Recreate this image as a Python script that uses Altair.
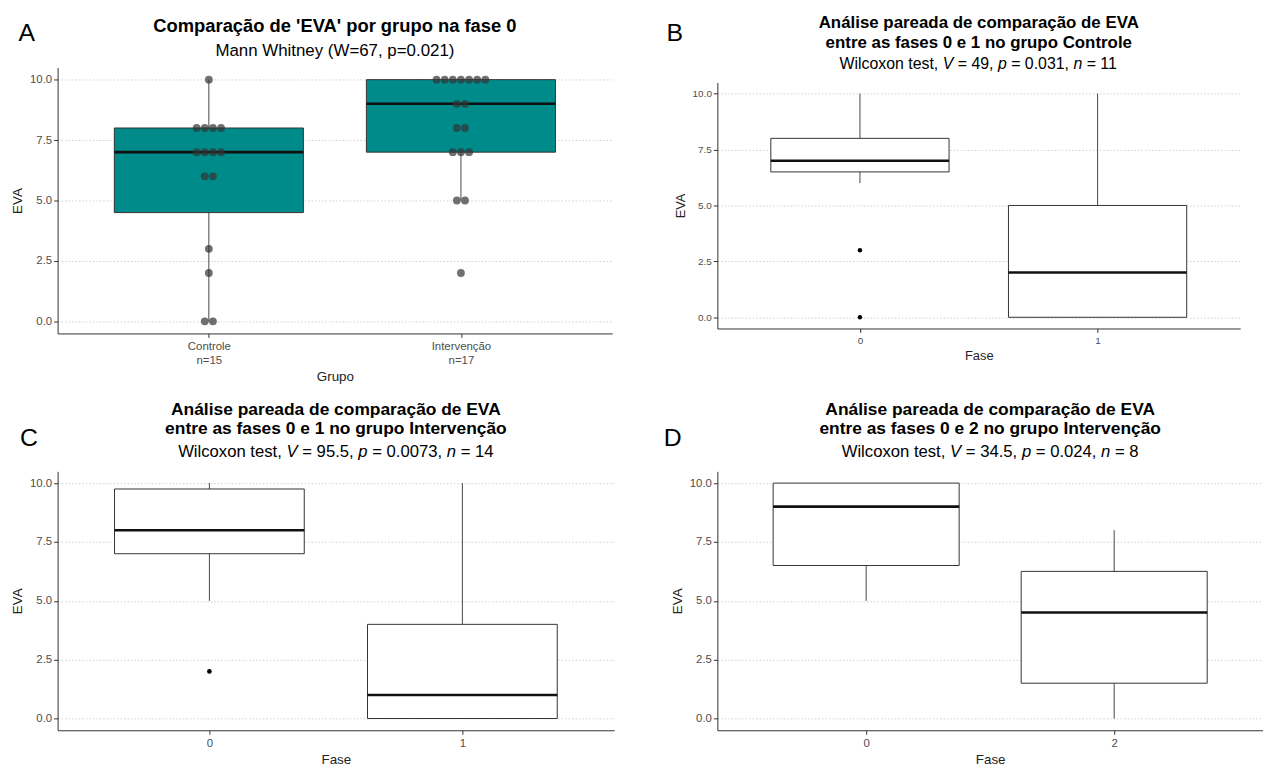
import altair as alt
import pandas as pd
import numpy as np

FONT = "Liberation Sans"

# ---------------- Panel A : raw EVA values per group (fase 0) ----------------
grupo_names = ["Controle", "Intervenção"]
grupo_n_labels = ["n=15", "n=17"]
eva_controle = [10, 8, 8, 8, 8, 7, 7, 7, 7, 6, 6, 3, 2, 0, 0]
eva_intervencao = [10, 10, 10, 10, 10, 10, 10, 9, 9, 8, 8, 7, 7, 7, 5, 5, 2]

# ---------------- Panels B, C, D : box summaries -------
b_fases = ["0", "1"]
b_lower = [6, 0]
b_q1 = [6.5, 0]
b_median = [7, 2]
b_q3 = [8, 5]
b_upper = [10, 10]
b_out_idx = [1, 1]
b_out_eva = [3, 0]

c_fases = ["0", "1"]
c_lower = [5, 0]
c_q1 = [7, 0]
c_median = [8, 1]
c_q3 = [9.75, 4]
c_upper = [10, 10]
c_out_idx = [1]
c_out_eva = [2]

d_fases = ["0", "2"]
d_lower = [5, 0]
d_q1 = [6.5, 1.5]
d_median = [9, 4.5]
d_q3 = [10, 6.25]
d_upper = [10, 8]
d_out_idx = []
d_out_eva = []

# ---------------- Titles ----------------
title_a = "Comparação de 'EVA' por grupo na fase 0"
subtitle_a = "Mann Whitney (W=67, p=0.021)"
title_line1 = "Análise pareada de comparação de EVA"
title_b2 = "entre as fases 0 e 1 no grupo Controle"
title_c2 = "entre as fases 0 e 1 no grupo Intervenção"
title_d2 = "entre as fases 0 e 2 no grupo Intervenção"
wilcox_b = ["49", "0.031", "11"]
wilcox_c = ["95.5", "0.0073", "14"]
wilcox_d = ["34.5", "0.024", "8"]

BOX_HALF = 0.375  # ggplot default box width 0.75

# Arial / Liberation Sans advance widths (per 1000 em) for laying out mixed
# regular/italic subtitle pieces side by side.
ADV = {" ": 278, ",": 278, ".": 278, "=": 584, "W": 944, "i": 222, "l": 222,
       "c": 500, "o": 556, "x": 500, "n": 556, "t": 278, "e": 556, "s": 500,
       "V": 667, "p": 556}


def text_width(s, size):
    return sum(ADV.get(ch, 556) for ch in s) * size / 1000.0


def wilcox_segments(vals):
    v, p, n = vals
    return [("Wilcoxon test, ", "normal"), ("V", "italic"), (f" = {v}, ", "normal"),
            ("p", "italic"), (f" = {p}, ", "normal"), ("n", "italic"),
            (f" = {n}", "normal")]


def stats_frame(lower, q1, median, q3, upper):
    pos = [1, 2]
    return pd.DataFrame({
        "pos": pos,
        "xl": [p - BOX_HALF for p in pos],
        "xr": [p + BOX_HALF for p in pos],
        "lower": lower, "q1": q1, "median": median, "q3": q3, "upper": upper,
    })


def tukey(vals):
    v = np.array(sorted(vals), dtype=float)
    q1, med, q3 = np.percentile(v, [25, 50, 75])
    iqr = q3 - q1
    lo = v[v >= q1 - 1.5 * iqr].min()
    hi = v[v <= q3 + 1.5 * iqr].max()
    return lo, q1, med, q3, hi


def label_expr(labels):
    def q(s):
        if isinstance(s, list):
            return "[" + ", ".join("'" + t + "'" for t in s) + "]"
        return "'" + s + "'"
    return f"datum.value == 1 ? {q(labels[0])} : {q(labels[1])}"


def text_layer(txt, x, y, size, weight="normal", style="normal", align="center"):
    return alt.Chart(pd.DataFrame({"t": [txt]})).mark_text(
        font=FONT, fontSize=size, fontWeight=weight, fontStyle=style, color="black",
        align=align, baseline="middle",
    ).encode(x=alt.value(x), y=alt.value(y), text="t:N")


def rich_layers(segments, cx, y, size):
    total = sum(text_width(s, size) for s, _ in segments)
    cursor = cx - total / 2
    out = []
    for s, style in segments:
        lead = len(s) - len(s.lstrip(" "))
        out.append(text_layer(s.strip(" "), cursor + text_width(" " * lead, size),
                              y, size, "normal", style, "left"))
        cursor += text_width(s, size)
    return out


def panel(stats, points, labels, width, height, titles, x_title, letter,
          letter_dx, letter_dy, fill, tick_font, title_font_size,
          pt_size, pt_color, pt_opacity, x_label_line_height=13, top_pad=0,
          rich=None):
    total_h = height + top_pad
    xs = alt.Scale(domain=[0.4, 2.6], nice=False, zero=False)
    ys = alt.Scale(domain=[-0.5, 10.5], nice=False, zero=False,
                   range=[total_h, top_pad])
    x_axis = alt.Axis(values=[1, 2], labelExpr=label_expr(labels), title=x_title,
                      grid=False, labelFontSize=tick_font, titleFontSize=title_font_size,
                      labelLineHeight=x_label_line_height, labelPadding=3, titlePadding=4)
    y_axis = alt.Axis(values=[0, 2.5, 5, 7.5, 10], format=".1f", title="EVA",
                      grid=True, gridDash=[1.5, 2], gridColor="#cfcfcf", gridWidth=1,
                      labelFontSize=tick_font, titleFontSize=title_font_size,
                      labelPadding=2, titlePadding=5)

    base = alt.Chart(stats)
    whisker = base.mark_rule(color="#333333", strokeWidth=0.9).encode(
        x=alt.X("pos:Q", scale=xs, axis=x_axis),
        y=alt.Y("lower:Q", scale=ys, axis=y_axis),
        y2="upper:Q",
    )
    box = base.mark_bar(fill=fill, stroke="#333333", strokeWidth=1).encode(
        x=alt.X("xl:Q", scale=xs, axis=x_axis), x2="xr:Q",
        y=alt.Y("q1:Q", scale=ys, axis=y_axis), y2="q3:Q",
    )
    med = base.mark_rule(color="#111111", strokeWidth=2.6).encode(
        x=alt.X("xl:Q", scale=xs, axis=x_axis), x2="xr:Q",
        y=alt.Y("median:Q", scale=ys, axis=y_axis),
    )
    layers = [whisker, box, med]
    if len(points):
        pts = alt.Chart(points).mark_circle(size=pt_size, color=pt_color,
                                            opacity=pt_opacity).encode(
            x=alt.X("px:Q", scale=xs, axis=x_axis),
            y=alt.Y("eva:Q", scale=ys, axis=y_axis),
        )
        layers.append(pts)
    layers.append(text_layer(letter, letter_dx, letter_dy, 25))
    for (txt, dy, size, weight) in titles:
        layers.append(text_layer(txt, width / 2, dy, size, weight))
    if rich is not None:
        segs, dy, size = rich
        layers.extend(rich_layers(segs, width / 2, dy, size))
    return alt.layer(*layers).properties(width=width, height=total_h)


# ---- Panel A ----
stA = [tukey(eva_controle), tukey(eva_intervencao)]
statsA = stats_frame(*[list(z) for z in zip(*stA)])
rows = []
DOT_STEP_PX = 8.2
A_W = 559
stepA = A_W / 2.2
for gi, vals in enumerate([eva_controle, eva_intervencao]):
    counts = pd.Series(vals).value_counts()
    seen = {}
    for v in vals:
        k = counts[v]
        r = seen.get(v, 0)
        seen[v] = r + 1
        off = (r - (k - 1) / 2) * DOT_STEP_PX / stepA
        rows.append({"px": gi + 1 + off, "eva": v})
ptsA = pd.DataFrame(rows)

chartA = panel(statsA, ptsA,
               [[grupo_names[0], grupo_n_labels[0]], [grupo_names[1], grupo_n_labels[1]]],
               A_W, 268,
               [(title_a, -42, 18.5, "bold"), (subtitle_a, -17, 17, "normal")],
               "Grupo", "A", -31, -35, "#008B8B", 11.5, 13.5,
               62, "#333333", 0.7, 14)

statsB = stats_frame(b_lower, b_q1, b_median, b_q3, b_upper)
ptsB = pd.DataFrame({"px": b_out_idx, "eva": b_out_eva})
chartB = panel(statsB, ptsB, b_fases, 527, 248,
               [(title_line1, -45, 17, "bold"), (title_b2, -25, 17, "bold")],
               "Fase", "B", -43, -35, "white", 10, 13, 20, "black", 1, top_pad=15,
               rich=(wilcox_segments(wilcox_b), -4, 16))

statsC = stats_frame(c_lower, c_q1, c_median, c_q3, c_upper)
ptsC = pd.DataFrame({"px": c_out_idx, "eva": c_out_eva})
chartC = panel(statsC, ptsC, c_fases, 561, 261,
               [(title_line1, -62, 17.5, "bold"), (title_c2, -43, 17.5, "bold")],
               "Fase", "C", -29, -34, "white", 11.5, 13.5, 22, "black", 1,
               rich=(wilcox_segments(wilcox_c), -19, 16.8))

statsD = stats_frame(d_lower, d_q1, d_median, d_q3, d_upper)
ptsD = pd.DataFrame({"px": d_out_idx, "eva": d_out_eva})
chartD = panel(statsD, ptsD, d_fases, 550, 261,
               [(title_line1, -62, 17.5, "bold"), (title_d2, -43, 17.5, "bold")],
               "Fase", "D", -45, -34, "white", 11.5, 13.5, 22, "black", 1,
               rich=(wilcox_segments(wilcox_d), -19, 16.8))

chart = alt.concat(
    chartA, chartB, chartC, chartD, columns=2,
    spacing={"row": 18, "column": 49},
).properties(
    padding={"left": 2, "top": 3, "right": 0, "bottom": 0}
).configure_view(stroke=None).configure_axis(
    domainColor="#333333", domainWidth=1, tickColor="#333333", tickSize=4,
    labelColor="#4d4d4d", labelFont=FONT, titleFont=FONT,
    titleFontWeight="normal", titleColor="#222222",
)

chart.save("out.html", embed_options={"renderer": "svg", "actions": False})
